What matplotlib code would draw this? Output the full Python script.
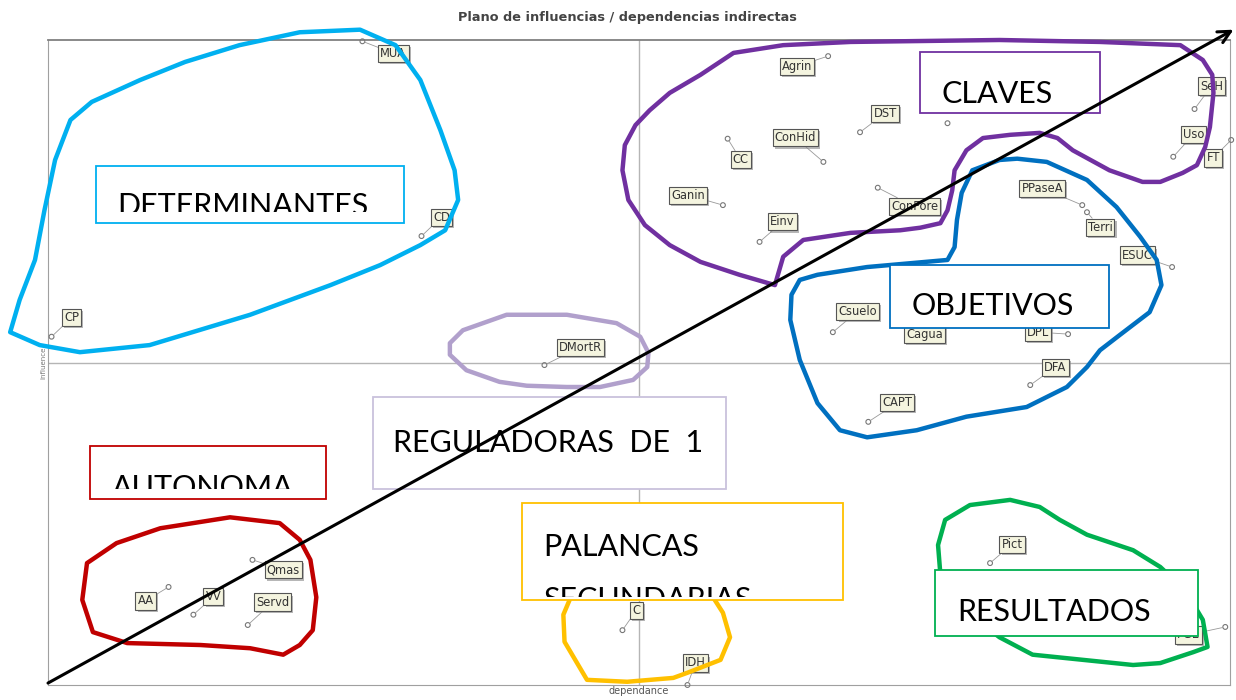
# Plano de influencias / dependencias indirectas (MICMAC) with hand-drawn groups
import matplotlib.pyplot as plt
import numpy as np
from matplotlib.patches import Rectangle, Polygon
import matplotlib.patheffects as pe

# variables: dependence (x) / influence (y), 0-100 scale
variables = ['MUA', 'Agrin', 'DST', 'ConHid', 'CC', 'Ganin', 'Einv', 'ConFore', '',
             'SeH', 'Uso', 'FT', 'PPaseA', 'Terri', 'ESUC', 'Csuelo', 'Cagua', 'DPL',
             'DFA', 'CAPT', 'CP', 'CD', 'DMortR', 'AA', 'VV', 'Qmas', 'Servd', 'C',
             'IDH', 'Pict', 'PGE']
dependencia = [26.6, 66.0, 68.7, 65.6, 57.5, 57.1, 60.2, 70.2, 76.1,
               97.0, 95.2, 100.1, 87.5, 87.9, 95.1, 66.4, 72.9, 86.3,
               83.1, 69.4, 0.3, 31.6, 42.0, 10.2, 12.3, 17.3, 16.9, 48.6,
               54.1, 79.7, 99.6]
influencia = [99.8, 97.5, 85.7, 81.1, 84.7, 74.4, 68.7, 77.1, 87.1,
              89.3, 81.9, 84.5, 74.4, 73.3, 64.8, 54.7, 57.2, 54.4,
              46.5, 40.8, 54.0, 69.6, 49.6, 15.2, 10.9, 19.4, 9.3, 8.5,
              0.0, 18.9, 9.0]

# label placement (pixels from the point)
label_offsets = [(31, -12), (-31, -10), (25, 19), (-28, 24), (13, -21), (-35, 10), (23, 20),
                 (37, -19), (12, 23), (17, 23), (20, 22), (-18, -18), (-40, 17), (13, -15),
                 (-35, 12), (25, 21), (15, -18), (-30, 2), (25, 18), (29, 19), (20, 19),
                 (20, 19), (36, 18), (-23, -14), (20, 18), (31, -10), (25, 23), (14, 20),
                 (8, 22), (22, 19), (-37, -8)]

# hand-drawn group outlines (dependence, influence)
loop_determinantes = [(-3.2, 54.7), (-2.4, 59.7), (-1.1, 65.9), (-0.3, 73.6), (0.6, 81.4),
                      (1.9, 87.6), (3.7, 90.4), (7.8, 93.8), (11.6, 96.6), (16.2, 99.2),
                      (21.3, 101.2), (26.4, 101.6), (29.4, 99.2), (31.5, 93.8), (33.2, 86.0),
                      (34.4, 79.8), (34.7, 75.2), (33.6, 70.5), (31.5, 68.2), (28.1, 65.1),
                      (23.9, 62.0), (17.1, 57.4), (8.6, 52.7), (2.7, 51.6), (-0.7, 52.7)]
loop_claves = [(50.9, 89.1), (52.6, 91.8), (55.2, 94.6), (58.0, 98.0), (62.2, 99.2),
               (67.9, 99.7), (80.5, 100.0), (89.0, 99.7), (95.8, 99.2), (97.7, 96.9),
               (98.5, 94.6), (98.6, 91.8), (98.3, 86.5), (97.9, 83.4), (97.2, 80.6),
               (96.0, 79.4), (94.1, 78.0), (92.6, 78.0), (89.8, 79.8), (86.7, 82.9),
               (85.4, 84.8), (83.9, 85.6), (81.4, 85.3), (79.1, 84.8), (77.7, 82.9),
               (76.7, 79.8), (76.5, 76.7), (76.1, 73.6), (75.5, 71.6), (73.8, 70.9),
               (72.1, 70.5), (67.9, 70.1), (63.9, 69.0), (62.2, 66.4), (61.5, 62.0),
               (58.5, 63.6), (55.2, 65.6), (52.6, 68.2), (50.5, 71.3), (49.1, 75.2),
               (48.6, 79.8), (48.8, 83.7), (49.7, 86.8)]
loop_objetivos = [(76.1, 65.9), (76.7, 67.9), (76.9, 72.1), (77.3, 76.3), (78.2, 79.8),
                  (80.5, 81.4), (82.0, 81.6), (84.5, 81.1), (87.9, 78.3), (90.4, 74.1),
                  (92.4, 69.5), (93.8, 65.9), (94.2, 62.0), (93.2, 57.8), (90.7, 54.3),
                  (89.0, 51.9), (87.9, 49.3), (86.2, 46.2), (82.8, 43.1), (77.7, 41.6),
                  (73.5, 39.5), (69.3, 38.4), (67.0, 39.5), (65.1, 43.7), (63.6, 50.4),
                  (62.8, 56.6), (62.9, 60.5), (63.6, 62.8), (65.1, 63.6), (69.3, 64.8)]
loop_reguladoras = [(34.0, 53.0), (35.1, 55.0), (38.8, 57.4), (43.9, 57.4), (48.1, 56.1),
                    (50.1, 54.0), (50.8, 51.5), (50.7, 49.3), (49.5, 47.3), (46.7, 46.2),
                    (43.9, 46.2), (40.5, 46.4), (38.2, 47.0), (35.4, 48.8), (34.0, 51.2)]
loop_autonoma = [(3.3, 18.9), (5.8, 22.0), (9.5, 24.3), (15.4, 26.0), (19.6, 25.1),
                 (21.3, 22.5), (22.2, 19.4), (22.7, 13.6), (22.4, 8.5), (21.3, 6.2),
                 (19.9, 4.7), (17.1, 5.7), (12.9, 6.2), (6.7, 6.5), (3.8, 8.2), (2.9, 13.2)]
loop_palancas = [(44.2, 13.5), (43.6, 10.9), (43.7, 6.7), (45.6, 0.8), (49.0, 0.5),
                 (52.9, 1.1), (54.1, 1.9), (56.9, 3.9), (57.7, 7.4), (57.1, 11.2), (56.3, 13.5)]
loop_resultados = [(75.5, 17.1), (75.3, 21.7), (75.9, 25.6), (78.0, 27.9), (81.4, 28.7),
                   (83.9, 27.6), (85.6, 25.6), (87.9, 23.3), (91.8, 20.9), (94.1, 18.3),
                   (96.2, 14.7), (97.7, 10.1), (98.1, 5.9), (96.9, 5.1), (94.1, 3.4),
                   (91.8, 3.1), (83.3, 4.7), (80.5, 7.4), (78.0, 10.9), (75.9, 14.0)]

loops = [(loop_determinantes, '#00b0f0'), (loop_claves, '#7030a0'),
         (loop_objetivos, '#0070c0'), (loop_reguladoras, '#b1a0cc'),
         (loop_autonoma, '#c00000'), (loop_palancas, '#ffc000'),
         (loop_resultados, '#00b050')]

# group captions: text lines, box (x0, y0, w, h), first-line anchor, visible bottom, colour
captions = [
    (['DETERMINANTES'], (4.06, 71.6, 26.1, 8.9), (5.9, 72.9), 73.3, '#00b0f0'),
    (['CLAVES'], (73.8, 88.7, 15.2, 9.4), (75.6, 90.2), None, '#7030a0'),
    (['OBJETIVOS'], (71.2, 55.3, 18.6, 9.8), (73.1, 57.4), None, '#0070c0'),
    (['REGULADORAS  DE  1'], (27.5, 30.4, 29.9, 14.3), (29.2, 36.1), None, '#c9c2dc'),
    (['AUTONOMA'], (3.55, 28.8, 19.95, 8.3), (5.4, 29.1), 30.4, '#c00000'),
    (['PALANCAS', 'SECUNDARIAS'], (40.1, 13.2, 27.2, 15.0), (41.9, 20.0), 13.6, '#ffc000'),
    (['RESULTADOS'], (75.0, 7.6, 22.3, 10.2), (76.9, 9.9), None, '#00b050'),
]
line_step = 8.2  # distance between caption lines, influence units

fig = plt.figure(figsize=(12.36, 7.0), dpi=100)
ax = fig.add_axes([48 / 1236, 15 / 700, 1182 / 1236, 645 / 700])
ax.set_xlim(0, 100)
ax.set_ylim(0, 100)
ax.set_xticks([])
ax.set_yticks([])
for s in ['left', 'bottom', 'right']:
    ax.spines[s].set_color('#a0a0a0')
ax.spines['top'].set_color('#808080')
ax.spines['top'].set_linewidth(1.3)
ax.axvline(50, color='#b5b5b5', lw=1, zorder=1)
ax.axhline(50, color='#b5b5b5', lw=1, zorder=1)

fig.text(627 / 1236, 1 - 17 / 700, 'Plano de influencias / dependencias indirectas',
         ha='center', va='center', fontsize=9.3, fontweight='bold', color='#444444')
ax.set_xlabel('dependance', fontsize=7, color='#555555', labelpad=1)
ax.set_ylabel('influence', fontsize=5, color='#777777', labelpad=1)

# points and their labels
ax.scatter(dependencia, influencia, s=12, facecolors='none', edgecolors='#777777',
           linewidths=0.8, zorder=3, clip_on=False)
for name, d, i, off in zip(variables, dependencia, influencia, label_offsets):
    if not name:
        continue
    a = ax.annotate(name, xy=(d, i), xytext=off, textcoords='offset pixels',
                    ha='center', va='center', fontsize=8.3, color='#333333', zorder=3,
                    bbox=dict(boxstyle='square,pad=0.18', fc='#f4f4df', ec='#555555', lw=0.8),
                    arrowprops=dict(arrowstyle='-', color='#999999', lw=0.6,
                                    shrinkA=0, shrinkB=2),
                    annotation_clip=False)
    a.get_bbox_patch().set_path_effects(
        [pe.withSimplePatchShadow(offset=(1.5, -1.5), shadow_rgbFace='#888888', alpha=0.6)])

# group outlines
for pts, col in loops:
    ax.add_patch(Polygon(pts, closed=True, fill=False, ec=col, lw=3.2,
                         joinstyle='round', zorder=4, clip_on=False))

# caption boxes
for lines, (x0, y0, w, h), (tx, ty), cut, col in captions:
    ax.add_patch(Rectangle((x0, y0), w, h, fc='white', ec=col, lw=1.3, zorder=5,
                           clip_on=False))
    for k, line in enumerate(lines):
        t = ax.text(tx, ty - k * line_step, line, fontsize=22,
                    family=['Lato', 'DejaVu Sans'], color='black',
                    ha='left', va='baseline', zorder=6)
        if cut is not None:
            clip = Rectangle((x0, cut), w, y0 + h - cut, transform=ax.transData)
            t.set_clip_path(clip)
            t.set_clip_on(True)

# diagonal arrow
ax.annotate('', xy=(100.3, 101.6), xytext=(0.0, 0.3),
            arrowprops=dict(arrowstyle='->', color='black', lw=2.2, mutation_scale=22,
                            shrinkA=0, shrinkB=0),
            annotation_clip=False, zorder=7)

fig.savefig('out.png', dpi=100)
